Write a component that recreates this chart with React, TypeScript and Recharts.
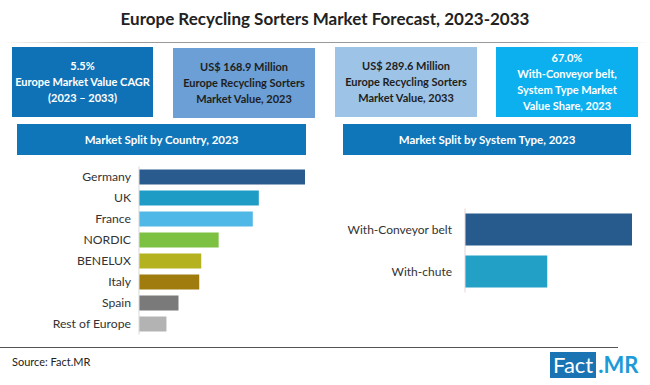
import React from 'react';
import { BarChart, Bar, XAxis, YAxis, Cell } from 'recharts';

// market split by country, 2023 (share, %)
const countries = ['Germany', 'UK', 'France', 'NORDIC', 'BENELUX', 'Italy', 'Spain', 'Rest of Europe'];
const countryShare = [24.8, 17.9, 17.0, 11.9, 9.3, 9.0, 5.9, 4.1];
const countryColors = ['#2a5b8e', '#1f9cc6', '#4fb8e6', '#7dc142', '#b4b21f', '#a07c0e', '#7a7a7a', '#b3b3b3'];

// market split by system type, 2023 (share, %)
const systemTypes = ['With-Conveyor belt', 'With-chute'];
const systemShare = [67.0, 33.0];
const systemColors = ['#285b8d', '#22a0c6'];

// headline boxes
const kpiHeadlines = ['5.5%', 'US$ 168.9 Million', 'US$ 289.6 Million', '67.0%'];
const kpiCaptions = [
  ['Europe Market Value CAGR', '(2023 – 2033)'],
  ['Europe Recycling Sorters', 'Market Value, 2023'],
  ['Europe Recycling Sorters', 'Market Value, 2033'],
  ['With-Conveyor belt,', 'System Type Market', 'Value Share, 2023'],
];

const countryData = countries.map((name, i) => ({ name, value: countryShare[i] }));
const systemData = systemTypes.map((name, i) => ({ name, value: systemShare[i] }));

const FONT = 'Lato, "Open Sans", sans-serif';

const kpiBoxes = [
  { left: 12, top: 47, width: 141, height: 70, bg: '#1072b6', color: '#ffffff' },
  { left: 173, top: 48, width: 142, height: 70, bg: '#6b9fd6', color: '#1e1e1e' },
  { left: 335, top: 47, width: 142, height: 70, bg: '#9dc3e6', color: '#1e1e1e' },
  { left: 496, top: 47, width: 142, height: 70, bg: '#0cb0ee', color: '#ffffff' },
];

const headerStyle: React.CSSProperties = {
  position: 'absolute',
  top: 124,
  height: 31,
  background: '#0e76b9',
  color: '#ffffff',
  fontWeight: 700,
  fontSize: 11.5,
  display: 'flex',
  alignItems: 'center',
  justifyContent: 'center',
};

const App: React.FC = () => {
  return (
    <div
      style={{
        position: 'absolute',
        left: 0,
        top: 0,
        width: 650,
        height: 385,
        background: '#ffffff',
        fontFamily: FONT,
        overflow: 'hidden',
      }}
    >
      <div
        style={{
          position: 'absolute',
          top: 8,
          width: 650,
          textAlign: 'center',
          fontSize: 17,
          fontWeight: 700,
          color: '#222',
        }}
      >
        Europe Recycling Sorters Market Forecast, 2023-2033
      </div>
      <div
        style={{
          position: 'absolute',
          top: 42,
          left: 0,
          width: 650,
          height: 1,
          background: 'linear-gradient(to right, rgba(150,150,150,0), #9a9a9a 20%, #9a9a9a 80%, rgba(150,150,150,0))',
        }}
      />

      {kpiBoxes.map((b, i) => (
        <div
          key={i}
          style={{
            position: 'absolute',
            left: b.left,
            top: b.top,
            width: b.width,
            height: b.height,
            background: b.bg,
            color: b.color,
            fontWeight: 700,
            fontSize: 11,
            lineHeight: '16px',
            textAlign: 'center',
            display: 'flex',
            flexDirection: 'column',
            justifyContent: 'center',
          }}
        >
          <div>{kpiHeadlines[i]}</div>
          {kpiCaptions[i].map((c) => (
            <div key={c}>{c}</div>
          ))}
        </div>
      ))}

      <div style={{ ...headerStyle, left: 17, width: 289 }}>Market Split by Country, 2023</div>
      <div style={{ ...headerStyle, left: 343, width: 288 }}>Market Split by System Type, 2023</div>

      <div style={{ position: 'absolute', left: 0, top: 160 }}>
        <BarChart
          width={320}
          height={180}
          layout="vertical"
          data={countryData}
          margin={{ top: 6.5, right: 15, bottom: 5.5, left: 0 }}
          barCategoryGap={3}
        >
          <XAxis type="number" hide domain={[0, 'dataMax']} />
          <YAxis
            type="category"
            dataKey="name"
            width={139}
            tickLine={false}
            axisLine={{ stroke: '#d9d9d9' }}
            tick={{ fill: '#333', fontSize: 12.2, fontFamily: FONT }}
            interval={0}
          />
          <Bar dataKey="value" isAnimationActive={false}>
            {countryData.map((d, i) => (
              <Cell key={d.name} fill={countryColors[i]} />
            ))}
          </Bar>
        </BarChart>
      </div>

      <div style={{ position: 'absolute', left: 330, top: 195 }}>
        <BarChart
          width={320}
          height={110}
          layout="vertical"
          data={systemData}
          margin={{ top: 13.5, right: 18, bottom: 12.5, left: 0 }}
          barCategoryGap={5}
        >
          <XAxis type="number" hide domain={[0, 'dataMax']} />
          <YAxis
            type="category"
            dataKey="name"
            width={135}
            tickLine={false}
            tickMargin={7}
            axisLine={{ stroke: '#e6d6d6' }}
            tick={{ fill: '#333', fontSize: 12, fontFamily: FONT }}
            interval={0}
          />
          <Bar dataKey="value" isAnimationActive={false}>
            {systemData.map((d, i) => (
              <Cell key={d.name} fill={systemColors[i]} />
            ))}
          </Bar>
        </BarChart>
      </div>

      <div style={{ position: 'absolute', left: 0, top: 347, width: 618, height: 1, background: '#555' }} />
      <div style={{ position: 'absolute', left: 12, top: 355, fontSize: 11, color: '#222' }}>Source: Fact.MR</div>
      <div
        style={{
          position: 'absolute',
          left: 550,
          top: 352,
          height: 26,
          display: 'flex',
          alignItems: 'stretch',
          fontSize: 22,
          lineHeight: '26px',
        }}
      >
        <span style={{ background: '#1a74b3', color: '#fff', padding: '0 3px' }}>Fact</span>
        <span style={{ color: '#1d9ad8', fontWeight: 700, paddingLeft: 2 }}>.MR</span>
      </div>
    </div>
  );
};

export default App;
